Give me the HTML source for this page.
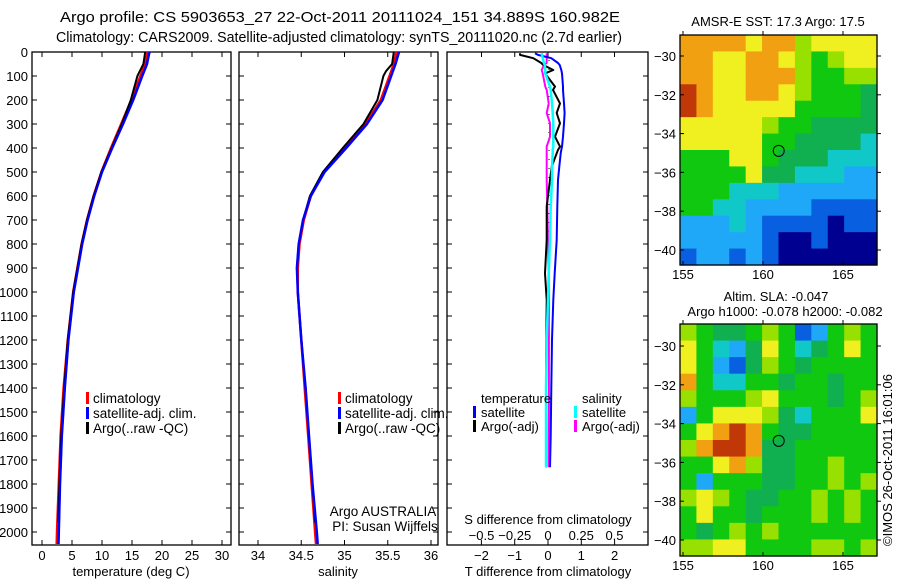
<!DOCTYPE html>
<html><head><meta charset="utf-8"><style>
html,body{margin:0;padding:0;background:#fff;}
svg{display:block;font-family:"Liberation Sans",sans-serif;}
text{font-size:13px;fill:#000;}
.lg{font-size:15.5px;}
.dl{font-size:13.5px;}
</style></head><body>
<svg id="chart" width="900" height="580" viewBox="0 0 900 580">
<text x="340" y="22" text-anchor="middle" textLength="560" lengthAdjust="spacingAndGlyphs" style="font-size:15px">Argo profile: CS 5903653_27 22-Oct-2011 20111024_151 34.889S 160.982E</text>
<text x="339" y="42" text-anchor="middle" textLength="566" lengthAdjust="spacingAndGlyphs" style="font-size:15px">Climatology: CARS2009. Satellite-adjusted climatology: synTS_20111020.nc (2.7d earlier)</text>
<g id="g"></g>
</svg>
<script>
// ---- data ----
const depthT = [0,50,100,200,300,400,500,600,700,800,900,1000,1200,1400,1600,1800,2000,2050];
const tempClim = [17.6,17.2,16.4,14.9,13.2,11.5,9.9,8.6,7.5,6.6,5.9,5.2,4.3,3.6,3.1,2.8,2.5,2.45];
const tempSat = [17.9,17.5,16.7,15.2,13.5,11.7,10.0,8.7,7.6,6.7,6.0,5.3,4.4,3.8,3.3,3.0,2.8,2.75];
const depthArgo = [0,50,80,100,200,300,400,500,600,700,800,900,1000,1200,1400,1600,1800,1960];
const tempArgo = [17.2,16.9,16.3,15.9,14.8,13.3,11.6,9.9,8.6,7.5,6.6,5.9,5.2,4.3,3.7,3.2,2.9,2.7];
const salClim = [35.60,35.57,35.52,35.42,35.24,35.00,34.76,34.61,34.53,34.48,34.46,34.46,34.50,34.54,34.58,34.62,34.66,34.67];
const salSat = [35.63,35.59,35.54,35.44,35.26,35.02,34.77,34.61,34.52,34.47,34.45,34.46,34.50,34.55,34.59,34.63,34.68,34.69];
const salArgo = [35.57,35.55,35.48,35.45,35.38,35.22,34.98,34.75,34.60,34.52,34.47,34.45,34.46,34.50,34.55,34.59,34.63,34.66];
const depthD = [5,12,26,46,54,75,89,144,158,214,254,297,353,394,408,422,478,533,644,783,922,1033,1200,1400,1600,1730];
const dTsat = [-0.39,-0.3,0.1,0.3,0.35,0.4,0.42,0.45,0.45,0.48,0.5,0.48,0.45,0.42,0.4,0.38,0.34,0.3,0.28,0.26,0.2,0.16,0.12,0.1,0.08,0.06];
const dTargo = [-0.84,-0.84,-0.44,-0.2,-0.14,0.16,-0.09,0.21,0.15,0.36,0.26,0.36,0.21,0.36,0.3,0.26,0.11,0.06,-0.04,-0.04,-0.09,-0.04,-0.05,-0.06,-0.05,-0.05];
const dSsat = [-0.047,-0.045,-0.04,-0.03,-0.025,-0.02,-0.02,0.015,0.02,0.03,0.035,0.04,0.04,0.04,0.035,0.035,0.03,0.03,0.02,0.015,0.005,0.0,-0.01,-0.015,-0.015,-0.015];
const dSargo = [-0.01,-0.01,-0.01,-0.01,-0.03,-0.047,-0.04,-0.02,-0.01,0.005,-0.01,0.015,0.015,-0.01,-0.01,-0.01,-0.01,-0.01,-0.005,0.0,0.005,0.007,0.007,0.007,0.007,0.007];
const depthTicks = [0,100,200,300,400,500,600,700,800,900,1000,1100,1200,1300,1400,1500,1600,1700,1800,1900,2000];
const tempTicks = [0,5,10,15,20,25,30];
const salTicks = [34,34.5,35,35.5,36];
const dTTicks = [-2,-1,0,1,2];
const dSTicks = [-0.5,-0.25,0,0.25,0.5];
const sstGrid = [
[8,8,8,8,7,8,8,6,7,7,7,7],[8,8,7,7,8,8,7,6,5,6,7,7],[8,8,7,7,8,8,8,6,5,5,6,6],[9,8,7,7,8,8,7,6,5,5,5,4],
[9,8,7,7,7,7,7,5,5,5,5,4],[7,7,7,7,7,6,5,5,4,4,4,4],[7,7,7,7,7,5,5,4,4,4,4,3],[5,5,5,7,7,5,4,4,4,3,3,3],
[5,5,5,5,7,4,4,3,3,3,2,2],[5,5,5,3,3,3,2,2,2,2,2,2],[5,5,3,3,2,2,2,2,1,1,1,1],[2,2,2,3,2,1,1,1,1,0,1,1],
[2,2,2,2,2,1,0,0,1,0,0,0],[1,2,2,1,2,1,0,0,0,0,0,0]];
const slaGrid = [
[6,5,4,4,5,6,5,1,2,5,6,5],[7,5,3,2,4,7,5,3,4,5,7,5],[7,5,2,1,4,6,5,4,5,5,5,5],[8,5,3,3,5,5,4,5,5,4,5,5],
[6,5,5,5,6,7,5,5,5,4,5,6],[2,5,7,7,7,6,4,3,5,5,5,7],[5,7,8,9,8,5,4,4,5,5,5,5],[6,8,9,9,8,4,4,5,5,5,5,5],
[5,5,7,8,6,4,4,5,5,6,5,5],[5,2,5,5,5,4,4,5,5,6,5,6],[6,7,6,5,4,4,5,5,6,5,6,5],[5,7,5,5,4,5,5,5,6,5,6,5],
[5,4,5,6,5,6,5,5,5,5,5,5],[6,6,7,7,5,5,5,5,6,6,5,6]];
const palette = ['#000090','#0860e0','#20a8f8','#10c8c8','#10b050','#10c810','#98e000','#f0f020','#f0a010','#c03808'];
const lonTicks = [155,160,165];
const latTicks = [-30,-32,-34,-36,-38,-40];

// ---- helpers ----
const NS='http://www.w3.org/2000/svg';
const G=document.getElementById('g');
function mk(tag,attrs,parent){const e=document.createElementNS(NS,tag);for(const k in attrs)e.setAttribute(k,attrs[k]);(parent||G).appendChild(e);return e;}
function txt(x,y,s,anchor,parent){const t=mk('text',{x:x,y:y,'text-anchor':anchor||'middle'},parent);t.textContent=s;return t;}
const yD = d => 52 + d*0.24;
const xT = v => 42 + v*6;
const xS = v => 258 + (v-34)*86.5;
const xDT = v => 548 + v*33.3;
const xDS = v => 548 + v*133;
function line(xs,ds,xf,color,w,name){
  let p='';for(let i=0;i<xs.length;i++)p+=(i?'L':'M')+xf(xs[i]).toFixed(1)+','+yD(ds[i]).toFixed(1);
  const e=mk('path',{d:p,fill:'none',stroke:color,'stroke-width':w,'stroke-linejoin':'round'});
  
  
  return e;
}
function panel(x0,x1,name){
  const b=mk('rect',{x:x0,y:52,width:x1-x0,height:493,fill:'none',stroke:'#000','stroke-width':1.3});
  
  
  depthTicks.forEach(d=>{mk('line',{x1:x0,x2:x0+5,y1:yD(d),y2:yD(d),stroke:'#000'});mk('line',{x1:x1-5,x2:x1,y1:yD(d),y2:yD(d),stroke:'#000'});});
}
depthTicks.forEach(d=>{const t=txt(28,yD(d)+5,String(d),'end');
  
  });

// panel 1 temperature
panel(32,231,'temperature-panel');
tempTicks.forEach(v=>{mk('line',{x1:xT(v),x2:xT(v),y1:545,y2:540,stroke:'#000'});mk('line',{x1:xT(v),x2:xT(v),y1:52,y2:57,stroke:'#000'});
  const t=txt(xT(v),560,String(v));});
txt(131,576,'temperature (deg C)');
line(tempClim,depthT,xT,'#f00',2.5,'temp-climatology-line');
line(tempSat,depthT,xT,'#00f',2.5,'temp-satellite-line');
line(tempArgo,depthArgo,xT,'#000',2,'temp-argo-line');
line(tempSat,depthT,xT,'#00f',2,'temp-satellite-line-top');

// panel 2 salinity
panel(239,438,'salinity-panel');
salTicks.forEach(v=>{mk('line',{x1:xS(v),x2:xS(v),y1:545,y2:540,stroke:'#000'});mk('line',{x1:xS(v),x2:xS(v),y1:52,y2:57,stroke:'#000'});
  const t=txt(xS(v),560,String(v));});
txt(338,576,'salinity');
line(salClim,depthT,xS,'#f00',2.5,'sal-climatology-line');
line(salArgo,depthArgo,xS,'#000',2,'sal-argo-line');
line(salSat,depthT,xS,'#00f',2.5,'sal-satellite-line');

function legend(x,items,name){
  items.forEach((it,i)=>{const y=403+i*15;
    mk('rect',{x:x,y:y-11,width:3,height:12,fill:it[1]});
    const t=txt(x+7,y,it[0],'start');
    t.setAttribute('class','dl');
    
    });
}
legend(86,[['climatology','#f00'],['satellite-adj. clim.','#00f'],['Argo(..raw -QC)','#000']],'temp-legend');
legend(338,[['climatology','#f00'],['satellite-adj. clim.','#00f'],['Argo(..raw -QC)','#000']],'sal-legend');
const a1=txt(383,516,'Argo AUSTRALIA');a1.setAttribute('class','dl');
const a2=txt(385,531,'PI: Susan Wijffels');a2.setAttribute('class','dl');

// panel 3 differences
panel(447,648,'difference-panel');
dTTicks.forEach(v=>{mk('line',{x1:xDT(v),x2:xDT(v),y1:545,y2:540,stroke:'#000'});
  const t=txt(xDT(v),560,String(v).replace('-','−'));});
dSTicks.forEach(v=>{mk('line',{x1:xDS(v),x2:xDS(v),y1:52,y2:57,stroke:'#000'});
  const t=txt(xDS(v),540,String(v).replace('-','−'));});
const st=txt(548,524,'S difference from climatology');
txt(548,576,'T difference from climatology');
mk('line',{x1:549,x2:549,y1:60,y2:320,stroke:'#000','stroke-dasharray':'1,8'});
line(dSargo,depthD,xDS,'#f0f',2,'sdiff-argo-line');
line(dTargo,depthD,xDT,'#000',2,'tdiff-argo-line');
line(dTsat,depthD,xDT,'#00f',2,'tdiff-satellite-line');
line(dSsat,depthD,xDS,'#0ff',2.5,'sdiff-satellite-line');
[['temperature',481,403,null],['satellite',481,417,'#00f'],['Argo(-adj)',481,431,'#000'],['salinity',582,403,null],['satellite',582,417,'#0ff'],['Argo(-adj)',582,431,'#f0f']].forEach(it=>{
  if(it[3])mk('rect',{x:it[1]-8,y:it[2]-11,width:3,height:12,fill:it[3]});
  const t=txt(it[1],it[2],it[0],'start');
  
  
});

// maps
const mx = lon => 683 + (lon-155)*16;
function drawMap(grid,yTop,lat30y,name){
  const my = lat => lat30y + (-30-lat)*19.4;
  const hh=yTop===35?230:232;
  const rows=grid.length, cols=grid[0].length, w=197/cols, h=hh/rows;
  grid.forEach((row,r)=>row.forEach((v,c)=>{
    const cell=mk('rect',{x:(680+c*w).toFixed(2),y:(yTop+r*h).toFixed(2),width:(w+0.6).toFixed(2),height:(h+0.6).toFixed(2),fill:palette[v]});
    
    
  }));
  const b=mk('rect',{x:680,y:yTop,width:197,height:hh,fill:'none',stroke:'#000','stroke-width':1.3});
  
  
  lonTicks.forEach(v=>{mk('line',{x1:mx(v),x2:mx(v),y1:yTop+hh,y2:yTop+hh-4,stroke:'#000'});mk('line',{x1:mx(v),x2:mx(v),y1:yTop,y2:yTop-4,stroke:'#000'});
    const t=txt(mx(v),yTop+hh+14,String(v));});
  latTicks.forEach(v=>{mk('line',{x1:680,x2:684,y1:my(v),y2:my(v),stroke:'#000'});mk('line',{x1:877,x2:881,y1:my(v),y2:my(v),stroke:'#000'});
    const t=txt(676,my(v)+5,String(v).replace('-','−'),'end');});
  const c=mk('circle',{cx:mx(160.982),cy:my(-34.889),r:5.5,fill:'none',stroke:'#000','stroke-width':1});
  
  
}
drawMap(sstGrid,35,56,'sst-map');
drawMap(slaGrid,324,346,'sla-map');
txt(778,26,'AMSR-E SST: 17.3 Argo: 17.5');
txt(776,301,'Altim. SLA: -0.047');
txt(785,316,'Argo h1000: -0.078 h2000: -0.082');
const im=txt(0,0,'©IMOS 26-Oct-2011 16:01:06');
im.setAttribute('transform','translate(892,460) rotate(-90)');


</script>
</body></html>
